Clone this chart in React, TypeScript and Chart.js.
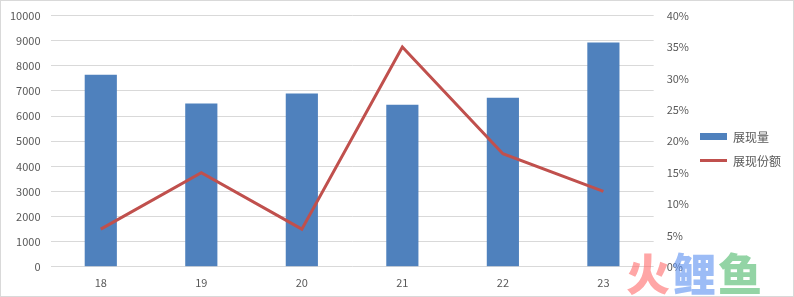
import React, { useEffect, useRef } from "react";
import { Chart, registerables } from "chart.js";

Chart.register(...registerables);

const categories = ["18", "19", "20", "21", "22", "23"];
const impressions = [7650, 6500, 6900, 6450, 6730, 8930];
const impressionShare = [0.06, 0.15, 0.06, 0.35, 0.18, 0.12];
const barLabel = "展现量";
const lineLabel = "展现份额";

const FONT = "'Noto Sans CJK SC', 'Noto Sans', sans-serif";

export default function App() {
  const ref = useRef<HTMLCanvasElement | null>(null);

  useEffect(() => {
    document.body.style.margin = "0";
    const ctx = ref.current!.getContext("2d")!;
    const chart = new Chart(ctx, {
      type: "bar",
      data: {
        labels: categories,
        datasets: [
          {
            type: "line",
            label: lineLabel,
            data: impressionShare,
            yAxisID: "y1",
            borderColor: "#c0504d",
            backgroundColor: "#c0504d",
            borderWidth: 3,
            pointRadius: 0,
            tension: 0,
            order: 0,
          },
          {
            type: "bar",
            label: barLabel,
            data: impressions,
            yAxisID: "y",
            backgroundColor: "#4f81bd",
            barPercentage: 0.32,
            categoryPercentage: 1,
            order: 1,
          },
        ],
      },
      options: {
        responsive: false,
        animation: false,
        layout: { padding: { left: 0, right: 92, top: 1, bottom: 0 } },
        plugins: { legend: { display: false }, tooltip: { enabled: false } },
        scales: {
          x: {
            offset: true,
            grid: { display: false, drawTicks: false },
            border: { display: false },
            ticks: { color: "#595959", font: { family: FONT, size: 11 }, padding: 9 },
          },
          y: {
            position: "left",
            min: 0,
            max: 10000,
            ticks: {
              stepSize: 1000,
              color: "#595959",
              font: { family: FONT, size: 11 },
              padding: 10,
              callback: (v: any) => String(v),
            },
            grid: { color: "#d9d9d9", drawTicks: false },
            border: { display: false },
          },
          y1: {
            position: "right",
            min: 0,
            max: 0.4,
            ticks: {
              stepSize: 0.05,
              color: "#595959",
              font: { family: FONT, size: 11 },
              padding: 13,
              callback: (v: any) => Math.round(Number(v) * 100) + "%",
            },
            grid: { display: false, drawTicks: false },
            border: { display: false },
          },
        },
      },
    });
    return () => chart.destroy();
  }, []);

  return (
    <div style={{ position: "relative", width: 794, height: 297, background: "#fff", fontFamily: FONT, overflow: "hidden" }}>
      <canvas ref={ref} width={794} height={302} style={{ position: "absolute", left: 0, top: -4 }} />
      <div style={{ position: "absolute", left: 700, top: 128, fontSize: 12, color: "#595959" }}>
        <div style={{ display: "flex", alignItems: "center", height: 16, marginBottom: 8 }}>
          <span style={{ display: "inline-block", width: 27, height: 7, background: "#4f81bd", marginRight: 6 }} />
          {barLabel}
        </div>
        <div style={{ display: "flex", alignItems: "center", height: 16 }}>
          <span style={{ display: "inline-block", width: 27, height: 3, background: "#c0504d", marginRight: 6 }} />
          {lineLabel}
        </div>
      </div>
      <div style={{ position: "absolute", left: 626, top: 248, fontSize: 44, fontWeight: 900, lineHeight: "48px", letterSpacing: 2, opacity: 0.6, whiteSpace: "nowrap" }}>
        <span style={{ color: "#ff6b6b" }}>火</span>
        <span style={{ color: "#5b8ff0" }}>鲤</span>
        <span style={{ color: "#4cb86a" }}>鱼</span>
      </div>
      <div style={{ position: "absolute", left: 0, top: 0, width: 794, height: 297, boxSizing: "border-box", border: "1px solid #d9d9d9", pointerEvents: "none" }} />
    </div>
  );
}
